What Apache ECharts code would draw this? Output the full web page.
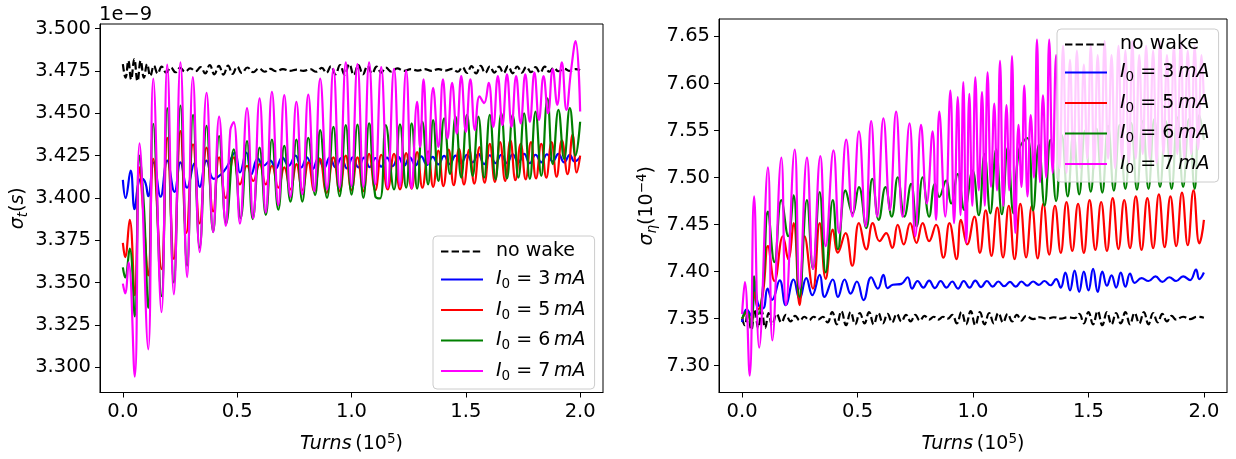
<!DOCTYPE html>
<html><head><meta charset="utf-8">
<script src="https://cdn.jsdelivr.net/npm/echarts@6/dist/echarts.min.js"></script>
<style>html,body{margin:0;padding:0;background:#fff}#c{width:1236px;height:459px}</style>
</head><body><div id="c"></div>
<script>
// ---- tick labels ----
const xTicks = [0.0, 0.5, 1.0, 1.5, 2.0];
const leftYTicks = [3.300, 3.325, 3.350, 3.375, 3.400, 3.425, 3.450, 3.475, 3.500];
const rightYTicks = [7.30, 7.35, 7.40, 7.45, 7.50, 7.55, 7.60, 7.65];
const seriesNames = ['no wake', 'I0 = 3 mA', 'I0 = 5 mA', 'I0 = 6 mA', 'I0 = 7 mA'];

// ---- left panel: sigma_t (units of 1e-9 s), x = turns (1e5) ----
const leftNoWake = [[0,3.479],[0.012,3.471],[0.024,3.481],[0.036,3.470],[0.05,3.482],[0.064,3.469],[0.078,3.481],[0.092,3.471],[0.106,3.479],[0.12,3.472],[0.136,3.478],[0.152,3.4735],[0.17,3.4775],[0.19,3.474],[0.21,3.477],[0.23,3.4742],[0.25,3.4768],[0.272,3.4745],[0.295,3.4765],[0.318,3.4748],[0.34,3.4772],[0.36,3.4735],[0.38,3.4785],[0.4,3.473],[0.42,3.478],[0.44,3.4728],[0.46,3.4782],[0.48,3.4732],[0.5,3.4775],[0.52,3.4738],[0.545,3.477],[0.57,3.4742],[0.595,3.4765],[0.62,3.4745],[0.645,3.4762],[0.67,3.4748],[0.7,3.476],[0.73,3.475],[0.76,3.4758],[0.79,3.475],[0.82,3.476],[0.845,3.4745],[0.87,3.4768],[0.89,3.4738],[0.91,3.4778],[0.93,3.473],[0.95,3.4785],[0.97,3.4728],[0.99,3.479],[1.01,3.4725],[1.03,3.4785],[1.05,3.473],[1.07,3.478],[1.09,3.4735],[1.11,3.4775],[1.13,3.474],[1.15,3.477],[1.175,3.4745],[1.2,3.4765],[1.23,3.475],[1.26,3.476],[1.29,3.4752],[1.32,3.476],[1.35,3.475],[1.38,3.476],[1.41,3.4752],[1.44,3.4762],[1.465,3.4745],[1.485,3.4772],[1.505,3.4738],[1.525,3.4778],[1.545,3.4735],[1.565,3.478],[1.585,3.4738],[1.605,3.4776],[1.625,3.474],[1.645,3.4775],[1.665,3.4738],[1.685,3.4778],[1.705,3.4736],[1.725,3.4776],[1.745,3.474],[1.765,3.4774],[1.785,3.4742],[1.805,3.4772],[1.825,3.474],[1.845,3.4775],[1.865,3.4745],[1.885,3.4768],[1.905,3.4748],[1.93,3.4762],[1.955,3.475],[1.98,3.476],[2.0,3.4755]];
const left3mA = [[0,3.4107],[0.012,3.400],[0.034,3.4162],[0.051,3.3933],[0.07,3.410],[0.085,3.4113],[0.099,3.4088],[0.111,3.401],[0.135,3.421],[0.165,3.4007],[0.194,3.422],[0.226,3.4036],[0.252,3.421],[0.281,3.406],[0.313,3.4204],[0.336,3.4065],[0.366,3.422],[0.397,3.4113],[0.43,3.414],[0.458,3.419],[0.49,3.4268],[0.512,3.415],[0.54,3.4268],[0.562,3.414],[0.59,3.4233],[0.615,3.419],[0.645,3.422],[0.668,3.4172],[0.697,3.424],[0.725,3.419],[0.755,3.425],[0.78,3.418],[0.805,3.424],[0.83,3.417],[0.855,3.4235],[0.88,3.4175],[0.905,3.424],[0.93,3.418],[0.955,3.4235],[0.98,3.4175],[1.005,3.424],[1.03,3.418],[1.055,3.4238],[1.08,3.4182],[1.105,3.4235],[1.13,3.4185],[1.155,3.4238],[1.18,3.4188],[1.205,3.4242],[1.23,3.419],[1.255,3.424],[1.28,3.4192],[1.305,3.4245],[1.33,3.4195],[1.355,3.4242],[1.38,3.4198],[1.405,3.4248],[1.43,3.42],[1.455,3.425],[1.48,3.4205],[1.505,3.4255],[1.53,3.421],[1.555,3.426],[1.58,3.42],[1.605,3.4252],[1.63,3.4205],[1.655,3.4255],[1.68,3.4205],[1.705,3.4258],[1.73,3.421],[1.755,3.426],[1.78,3.4205],[1.805,3.4255],[1.83,3.421],[1.855,3.4258],[1.88,3.4215],[1.905,3.426],[1.93,3.421],[1.955,3.4255],[1.975,3.4215],[2.0,3.424]];
const left5mA = [[0,3.3735],[0.01,3.365],[0.03,3.3871],[0.052,3.3426],[0.073,3.418],[0.09,3.39],[0.111,3.3542],[0.133,3.423],[0.169,3.358],[0.194,3.4355],[0.223,3.364],[0.252,3.4394],[0.278,3.3793],[0.307,3.4316],[0.336,3.385],[0.366,3.4297],[0.395,3.392],[0.421,3.424],[0.45,3.40],[0.485,3.424],[0.512,3.408],[0.543,3.419],[0.57,3.41],[0.598,3.42],[0.625,3.408],[0.652,3.419],[0.68,3.406],[0.706,3.418],[0.733,3.405],[0.759,3.42],[0.785,3.4045],[0.811,3.421],[0.837,3.404],[0.863,3.423],[0.89,3.403],[0.921,3.424],[0.948,3.404],[0.975,3.425],[1.0,3.4045],[1.026,3.424],[1.052,3.404],[1.077,3.426],[1.104,3.4045],[1.13,3.4255],[1.158,3.405],[1.186,3.426],[1.212,3.405],[1.239,3.4265],[1.263,3.4055],[1.287,3.427],[1.31,3.406],[1.335,3.4275],[1.357,3.4065],[1.38,3.428],[1.402,3.407],[1.425,3.4285],[1.447,3.4075],[1.47,3.429],[1.492,3.408],[1.515,3.4285],[1.537,3.4085],[1.56,3.43],[1.582,3.409],[1.605,3.432],[1.627,3.4095],[1.65,3.433],[1.672,3.41],[1.695,3.434],[1.717,3.4105],[1.74,3.432],[1.762,3.411],[1.785,3.433],[1.807,3.4115],[1.83,3.432],[1.852,3.412],[1.875,3.433],[1.897,3.4125],[1.92,3.434],[1.945,3.414],[1.967,3.4374],[1.985,3.415],[2.0,3.425]];
const left6mA = [[0,3.359],[0.01,3.353],[0.03,3.37],[0.052,3.33],[0.073,3.425],[0.092,3.395],[0.111,3.335],[0.133,3.4437],[0.169,3.342],[0.194,3.453],[0.223,3.35],[0.252,3.4545],[0.281,3.36],[0.307,3.449],[0.336,3.3706],[0.366,3.4425],[0.395,3.38],[0.421,3.4365],[0.452,3.385],[0.485,3.4287],[0.515,3.388],[0.543,3.4336],[0.568,3.3875],[0.598,3.4297],[0.625,3.39],[0.652,3.4345],[0.68,3.393],[0.706,3.4307],[0.733,3.3978],[0.759,3.4345],[0.785,3.3978],[0.811,3.4355],[0.841,3.4017],[0.863,3.44],[0.893,3.40],[0.921,3.442],[0.948,3.401],[0.975,3.443],[1.0,3.402],[1.026,3.4433],[1.052,3.40],[1.077,3.444],[1.104,3.401],[1.125,3.3997],[1.15,3.443],[1.186,3.405],[1.212,3.4435],[1.239,3.406],[1.263,3.444],[1.287,3.4055],[1.31,3.445],[1.335,3.408],[1.357,3.446],[1.38,3.41],[1.405,3.447],[1.431,3.4142],[1.455,3.448],[1.48,3.412],[1.505,3.449],[1.53,3.413],[1.555,3.448],[1.58,3.412],[1.605,3.449],[1.63,3.411],[1.655,3.45],[1.68,3.4115],[1.705,3.449],[1.73,3.412],[1.755,3.45],[1.78,3.4113],[1.805,3.451],[1.83,3.413],[1.857,3.4588],[1.88,3.42],[1.905,3.452],[1.93,3.423],[1.955,3.453],[1.98,3.425],[2.0,3.445]];
const left7mA = [[0,3.3494],[0.01,3.3436],[0.025,3.362],[0.052,3.2945],[0.073,3.4322],[0.111,3.3106],[0.133,3.4704],[0.169,3.3325],[0.194,3.4787],[0.223,3.343],[0.252,3.48],[0.281,3.3532],[0.306,3.4714],[0.336,3.368],[0.366,3.462],[0.395,3.3798],[0.421,3.448],[0.45,3.3836],[0.47,3.44],[0.485,3.4448],[0.512,3.3848],[0.543,3.453],[0.57,3.388],[0.598,3.4588],[0.625,3.3914],[0.652,3.4627],[0.68,3.3958],[0.706,3.4607],[0.733,3.4007],[0.759,3.4568],[0.785,3.4022],[0.811,3.461],[0.837,3.404],[0.863,3.4704],[0.893,3.405],[0.921,3.4762],[0.948,3.406],[0.975,3.48],[1.0,3.407],[1.026,3.479],[1.052,3.4065],[1.077,3.48],[1.104,3.408],[1.13,3.4772],[1.158,3.406],[1.186,3.4762],[1.212,3.407],[1.239,3.4752],[1.263,3.4055],[1.287,3.4568],[1.3,3.43],[1.315,3.47],[1.335,3.42],[1.357,3.465],[1.38,3.43],[1.4,3.47],[1.42,3.435],[1.44,3.468],[1.46,3.438],[1.48,3.472],[1.5,3.439],[1.52,3.47],[1.54,3.44],[1.56,3.46],[1.58,3.456],[1.6,3.468],[1.62,3.442],[1.64,3.472],[1.66,3.443],[1.68,3.473],[1.7,3.442],[1.72,3.472],[1.74,3.444],[1.76,3.473],[1.78,3.445],[1.8,3.474],[1.82,3.446],[1.84,3.472],[1.86,3.45],[1.88,3.476],[1.9,3.455],[1.92,3.48],[1.94,3.452],[1.96,3.475],[1.98,3.4926],[2.0,3.451]];

// ---- right panel: sigma_eta (units of 1e-4) ----
const rightNoWake = [[0,7.35],[0.012,7.343],[0.025,7.358],[0.04,7.338],[0.055,7.36],[0.07,7.34],[0.085,7.358],[0.1,7.34],[0.115,7.356],[0.13,7.343],[0.15,7.355],[0.17,7.346],[0.19,7.354],[0.21,7.347],[0.23,7.353],[0.25,7.348],[0.27,7.352],[0.29,7.3485],[0.31,7.352],[0.33,7.349],[0.35,7.352],[0.37,7.346],[0.39,7.357],[0.41,7.344],[0.43,7.358],[0.45,7.343],[0.47,7.357],[0.49,7.344],[0.51,7.356],[0.53,7.345],[0.55,7.357],[0.57,7.344],[0.59,7.356],[0.61,7.345],[0.63,7.355],[0.65,7.346],[0.67,7.355],[0.69,7.347],[0.71,7.354],[0.73,7.347],[0.75,7.354],[0.77,7.348],[0.79,7.353],[0.81,7.349],[0.83,7.352],[0.85,7.349],[0.87,7.352],[0.89,7.35],[0.91,7.354],[0.93,7.345],[0.95,7.357],[0.97,7.344],[0.99,7.358],[1.01,7.343],[1.03,7.357],[1.05,7.344],[1.07,7.356],[1.09,7.345],[1.11,7.356],[1.13,7.346],[1.15,7.355],[1.17,7.347],[1.19,7.354],[1.21,7.348],[1.23,7.353],[1.26,7.3495],[1.29,7.3515],[1.32,7.35],[1.35,7.3515],[1.38,7.35],[1.41,7.3515],[1.44,7.3505],[1.46,7.355],[1.48,7.345],[1.5,7.357],[1.52,7.344],[1.54,7.358],[1.56,7.343],[1.58,7.357],[1.6,7.344],[1.62,7.356],[1.64,7.345],[1.66,7.357],[1.68,7.344],[1.7,7.356],[1.72,7.345],[1.74,7.357],[1.76,7.344],[1.78,7.356],[1.8,7.346],[1.82,7.355],[1.84,7.347],[1.86,7.353],[1.88,7.349],[1.91,7.352],[1.94,7.3495],[1.97,7.352],[2.0,7.351]];
const right3mA = [[0,7.3463],[0.02,7.36],[0.04,7.353],[0.055,7.3853],[0.07,7.365],[0.091,7.361],[0.11,7.382],[0.13,7.37],[0.163,7.3906],[0.189,7.3644],[0.223,7.3916],[0.249,7.3707],[0.278,7.393],[0.304,7.3749],[0.336,7.3965],[0.357,7.3731],[0.393,7.3916],[0.415,7.3731],[0.444,7.3916],[0.47,7.3766],[0.497,7.3895],[0.526,7.3697],[0.559,7.394],[0.588,7.3819],[0.612,7.3965],[0.63,7.3825],[0.653,7.386],[0.69,7.387],[0.717,7.394],[0.736,7.3819],[0.76,7.39],[0.785,7.383],[0.81,7.3905],[0.835,7.3825],[0.86,7.39],[0.885,7.383],[0.91,7.3895],[0.935,7.382],[0.96,7.39],[0.985,7.383],[1.01,7.3905],[1.035,7.3835],[1.06,7.39],[1.085,7.384],[1.11,7.3895],[1.135,7.3845],[1.16,7.389],[1.185,7.384],[1.21,7.3895],[1.235,7.385],[1.26,7.3895],[1.285,7.386],[1.31,7.39],[1.335,7.3855],[1.36,7.392],[1.38,7.383],[1.4,7.399],[1.42,7.38],[1.44,7.401],[1.46,7.3785],[1.48,7.40],[1.5,7.38],[1.52,7.4028],[1.54,7.3783],[1.56,7.40],[1.58,7.385],[1.6,7.396],[1.62,7.383],[1.64,7.399],[1.66,7.384],[1.68,7.398],[1.7,7.388],[1.73,7.393],[1.76,7.39],[1.79,7.395],[1.82,7.389],[1.85,7.394],[1.88,7.39],[1.91,7.395],[1.94,7.391],[1.966,7.402],[1.98,7.392],[2.0,7.399]];
const right5mA = [[0,7.35],[0.02,7.356],[0.04,7.345],[0.052,7.378],[0.07,7.36],[0.091,7.3783],[0.112,7.4271],[0.14,7.39],[0.177,7.4376],[0.2,7.4132],[0.223,7.4515],[0.249,7.3644],[0.271,7.4376],[0.307,7.3819],[0.336,7.4515],[0.362,7.3923],[0.393,7.4446],[0.415,7.4201],[0.448,7.441],[0.477,7.4062],[0.506,7.4515],[0.538,7.4237],[0.566,7.4515],[0.595,7.4324],[0.624,7.441],[0.65,7.4253],[0.674,7.4498],[0.7,7.4289],[0.728,7.4515],[0.755,7.4306],[0.782,7.4515],[0.81,7.4324],[0.84,7.4498],[0.872,7.4149],[0.898,7.4515],[0.929,7.4132],[0.948,7.455],[0.975,7.4289],[1.006,7.4585],[1.03,7.42],[1.055,7.465],[1.08,7.4167],[1.105,7.468],[1.13,7.415],[1.155,7.47],[1.18,7.4132],[1.205,7.472],[1.23,7.415],[1.255,7.47],[1.28,7.414],[1.305,7.4724],[1.33,7.418],[1.355,7.47],[1.38,7.42],[1.405,7.474],[1.43,7.422],[1.455,7.472],[1.48,7.42],[1.505,7.476],[1.53,7.423],[1.555,7.474],[1.58,7.422],[1.605,7.478],[1.63,7.424],[1.655,7.476],[1.68,7.425],[1.705,7.48],[1.73,7.423],[1.755,7.478],[1.78,7.425],[1.805,7.482],[1.83,7.426],[1.855,7.48],[1.88,7.4271],[1.905,7.484],[1.93,7.428],[1.955,7.4864],[1.98,7.43],[1.99,7.4376],[2.0,7.455]];
const right6mA = [[0,7.35],[0.02,7.358],[0.04,7.342],[0.052,7.395],[0.072,7.355],[0.091,7.385],[0.112,7.4637],[0.14,7.41],[0.17,7.4759],[0.2,7.4376],[0.223,7.4811],[0.249,7.3731],[0.281,7.4759],[0.307,7.4028],[0.336,7.4846],[0.362,7.3992],[0.393,7.4759],[0.415,7.4237],[0.448,7.4864],[0.478,7.4619],[0.506,7.4898],[0.538,7.4462],[0.564,7.4985],[0.592,7.455],[0.621,7.4898],[0.648,7.4585],[0.674,7.5003],[0.703,7.4585],[0.732,7.4933],[0.756,7.448],[0.782,7.5003],[0.81,7.4585],[0.835,7.4933],[0.854,7.4794],[0.883,7.4968],[0.905,7.4724],[0.934,7.5037],[0.963,7.4655],[0.998,7.5073],[1.025,7.46],[1.05,7.525],[1.075,7.462],[1.1,7.53],[1.125,7.461],[1.15,7.5316],[1.175,7.462],[1.2,7.53],[1.235,7.542],[1.26,7.465],[1.285,7.535],[1.31,7.47],[1.335,7.54],[1.36,7.475],[1.385,7.545],[1.41,7.48],[1.435,7.548],[1.46,7.482],[1.485,7.55],[1.51,7.485],[1.535,7.552],[1.56,7.484],[1.585,7.555],[1.61,7.486],[1.635,7.556],[1.66,7.488],[1.685,7.558],[1.71,7.487],[1.735,7.56],[1.76,7.488],[1.785,7.562],[1.81,7.49],[1.835,7.56],[1.86,7.488],[1.885,7.564],[1.91,7.49],[1.935,7.562],[1.96,7.488],[1.98,7.5664],[2.0,7.54]];
const right7mA = [[0,7.355],[0.012,7.3888],[0.033,7.2895],[0.052,7.4801],[0.074,7.3192],[0.112,7.5107],[0.131,7.3268],[0.17,7.5212],[0.19,7.3644],[0.228,7.5298],[0.249,7.382],[0.281,7.5212],[0.307,7.4028],[0.339,7.5229],[0.362,7.4271],[0.396,7.5288],[0.42,7.441],[0.451,7.5403],[0.478,7.4585],[0.506,7.549],[0.535,7.448],[0.559,7.5601],[0.585,7.4585],[0.612,7.563],[0.64,7.4655],[0.667,7.57],[0.695,7.4585],[0.725,7.5577],[0.75,7.4376],[0.775,7.556],[0.8,7.4724],[0.825,7.549],[0.84,7.455],[0.854,7.57],[0.88,7.4585],[0.902,7.5925],[0.918,7.4515],[0.934,7.5856],[0.946,7.46],[0.958,7.6013],[0.971,7.4306],[0.984,7.589],[0.997,7.47],[1.01,7.6065],[1.025,7.4864],[1.039,7.5908],[1.051,7.47],[1.063,7.6118],[1.078,7.49],[1.092,7.5786],[1.104,7.4864],[1.117,7.6239],[1.131,7.47],[1.145,7.5769],[1.157,7.4864],[1.169,7.6291],[1.183,7.441],[1.197,7.556],[1.21,7.49],[1.222,7.5977],[1.236,7.48],[1.25,7.5664],[1.264,7.50],[1.277,7.6465],[1.29,7.495],[1.303,7.5873],[1.317,7.50],[1.33,7.6465],[1.345,7.505],[1.36,7.63],[1.375,7.51],[1.39,7.64],[1.405,7.505],[1.42,7.625],[1.435,7.515],[1.45,7.635],[1.465,7.51],[1.48,7.62],[1.495,7.52],[1.51,7.64],[1.525,7.51],[1.54,7.63],[1.555,7.515],[1.57,7.645],[1.585,7.52],[1.6,7.63],[1.615,7.51],[1.63,7.64],[1.645,7.52],[1.66,7.635],[1.675,7.515],[1.69,7.645],[1.705,7.52],[1.72,7.63],[1.735,7.525],[1.75,7.64],[1.765,7.52],[1.78,7.635],[1.795,7.515],[1.81,7.645],[1.825,7.525],[1.84,7.63],[1.855,7.52],[1.87,7.64],[1.885,7.525],[1.9,7.645],[1.915,7.52],[1.93,7.635],[1.945,7.525],[1.96,7.64],[1.975,7.53],[1.99,7.63],[2.0,7.58]];

const leftData = [leftNoWake, left3mA, left5mA, left6mA, left7mA];
const rightData = [rightNoWake, right3mA, right5mA, right6mA, right7mA];
const colors = ['#000000', '#0000ff', '#ff0000', '#008000', '#ff00ff'];

const FONT = 'DejaVu Sans';
const FS = 19;
const TFS = 19.5;
const rich = {
  rm: { fontFamily: FONT, fontSize: FS, color: '#000', lineHeight: 24 },
  it: { fontFamily: FONT, fontSize: FS, fontStyle: 'italic', color: '#000', lineHeight: 24 },
  sub: { fontFamily: FONT, fontSize: 13.5, color: '#000', lineHeight: 14, verticalAlign: 'bottom' },
  subit: { fontFamily: FONT, fontSize: 13.5, fontStyle: 'italic', color: '#000', lineHeight: 14, verticalAlign: 'bottom' },
  sup: { fontFamily: FONT, fontSize: 13.5, color: '#000', lineHeight: 14, verticalAlign: 'top' }
};

function legendFmt(name) {
  if (name === 'no wake') return '{rm|no wake}';
  const n = name.match(/= (\d)/)[1];
  return '{it|I}{sub|0}{rm| = ' + n + '\u2009}{it|mA}';
}

function makeSeries(dataSets, idx) {
  return dataSets.map((d, i) => ({
    name: seriesNames[i],
    type: 'line',
    xAxisIndex: idx, yAxisIndex: idx,
    data: d,
    symbol: 'none',
    smooth: 0.45,
    lineStyle: { color: colors[i], width: 2.2, type: i === 0 ? [7.4, 3.2] : 'solid' },
    itemStyle: { color: colors[i] },
    z: 2
  }));
}

function xAxis(idx) {
  return {
    gridIndex: idx, type: 'value', min: -0.1, max: 2.1,
    name: '{it|Turns}{rm|\u2009(10}{sup|5}{rm|)}',
    nameLocation: 'middle', nameGap: 40,
    nameTextStyle: { rich },
    axisLine: { show: true, onZero: false, lineStyle: { color: '#000', width: 1 } },
    axisTick: { show: true, length: 5, lineStyle: { color: '#000' }, customValues: xTicks },
    axisLabel: { customValues: xTicks, formatter: v => v.toFixed(1), fontFamily: FONT, fontSize: TFS, color: '#000', margin: 9 },
    splitLine: { show: false }
  };
}
function yAxis(idx, min, max, ticks, dec, name, gap) {
  return {
    gridIndex: idx, type: 'value', min, max,
    name, nameLocation: 'middle', nameRotate: 90, nameGap: gap,
    nameTextStyle: { rich },
    axisLine: { show: true, onZero: false, lineStyle: { color: '#000', width: 1 } },
    axisTick: { show: true, length: 5, lineStyle: { color: '#000' }, customValues: ticks },
    axisLabel: { customValues: ticks, formatter: v => v.toFixed(dec), fontFamily: FONT, fontSize: TFS, color: '#000', margin: 9 },
    splitLine: { show: false }
  };
}

const legendBase = {
  orient: 'vertical', itemWidth: 42, itemHeight: 14, itemGap: 9,
  backgroundColor: 'rgba(255,255,255,0.8)', borderColor: '#cccccc', borderWidth: 1, borderRadius: 4,
  padding: [6, 9, 6, 7],
  formatter: legendFmt,
  itemStyle: { color: 'rgba(0,0,0,0)', borderColor: 'rgba(0,0,0,0)', borderWidth: 0, opacity: 0 },
  textStyle: { rich, padding: [0, 0, 0, 8] },
  data: seriesNames.map(n => ({ name: n })),
  selectedMode: false,
  z: 10
};

const chart = echarts.init(document.getElementById('c'), null, { renderer: 'canvas' });
chart.setOption({
  animation: false,
  backgroundColor: '#fff',
  grid: [
    { left: 100, top: 24, width: 503, height: 375, show: true, borderColor: '#000', borderWidth: 1, backgroundColor: 'transparent' },
    { left: 719, top: 19, width: 508, height: 380, show: true, borderColor: '#000', borderWidth: 1, backgroundColor: 'transparent' }
  ],
  xAxis: [xAxis(0), xAxis(1)],
  yAxis: [
    yAxis(0, 3.2851, 3.5027, leftYTicks, 3, '{it|\u03c3}{subit|t}{rm|(}{it|s}{rm|)}', 70),
    yAxis(1, 7.2715, 7.6685, rightYTicks, 2, '{it|\u03c3}{subit|\u03b7}{rm|(10}{sup|\u22124}{rm|)}', 60)
  ],
  legend: [
    Object.assign({}, legendBase, { left: 433, top: 236 }),
    Object.assign({}, legendBase, { left: 1057, top: 29 })
  ],
  graphic: [
    { type: 'text', left: 99, top: 5, style: { text: '1e\u22129', fontFamily: FONT, fontSize: TFS, fill: '#000' } }
  ],
  series: makeSeries(leftData, 0).concat(makeSeries(rightData, 1))
});
</script></body></html>
